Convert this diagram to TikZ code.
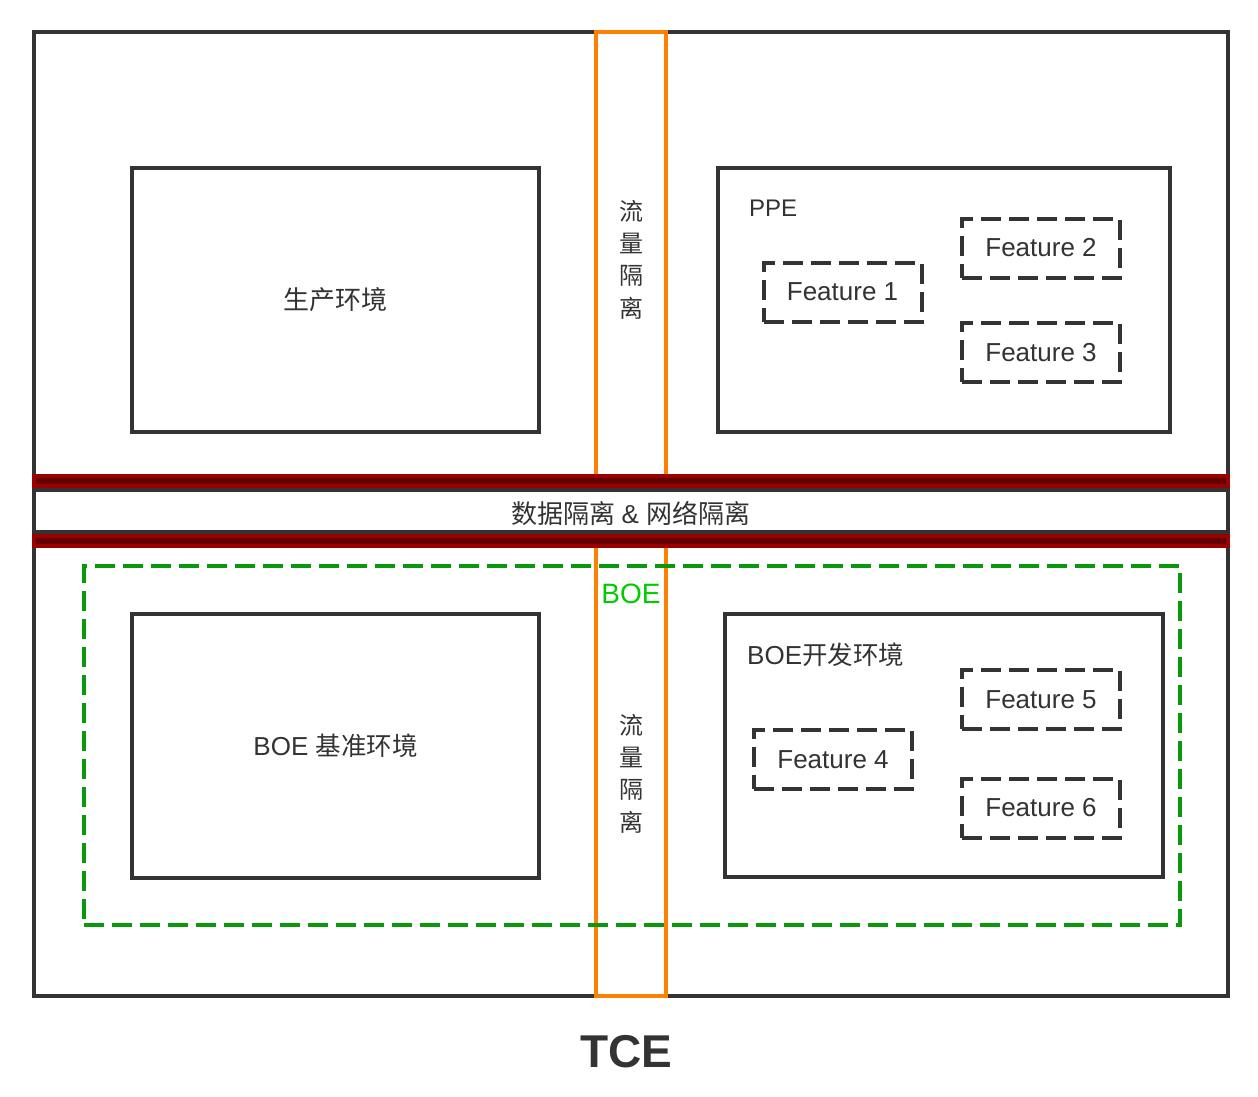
\documentclass[tikz,border=0pt]{standalone}
\usepackage{fontspec}
\setmainfont{Liberation Sans}
\newfontfamily\cjk{Noto Sans CJK SC}
\definecolor{dk}{HTML}{333333}
\definecolor{orng}{HTML}{FF8000}
\definecolor{grn}{HTML}{0A990A}
\definecolor{grntxt}{HTML}{00CC00}
\definecolor{redb}{HTML}{990000}
\definecolor{redf}{HTML}{660000}
\tikzset{
  bx/.style={draw=dk,line width=4pt,inner sep=0pt,fill=white},
  featbox/.style={draw=dk,line width=4pt,inner sep=0pt,dash pattern=on 20pt off 8pt,minimum width=158pt,minimum height=59pt,
     font=\fontsize{26}{30}\selectfont,text=dk},
  redbar/.style={draw=redb,fill=redf,line width=4pt,inner sep=0pt,minimum width=1194pt,minimum height=10pt},
  cn/.style={text=dk,font=\cjk\fontsize{26}{30}\selectfont,inner sep=0pt},
  vert/.style={text=dk,font=\cjk\fontsize{24}{32.3}\selectfont,align=center,inner sep=0pt},
}
\begin{document}
\begin{tikzpicture}[x=1pt,y=-1pt]
\useasboundingbox (0,0) rectangle (1258,1096);
% outer TCE box
\node[draw=dk,line width=4pt,inner sep=0pt,minimum width=1194pt,minimum height=964pt] (tce) at (631,514) {};
% orange traffic isolation strip
\node[draw=orng,line width=4pt,inner sep=0pt,minimum width=70pt,minimum height=964pt] (strip) at (631,514) {};
% green BOE dashed box
\node[draw=grn,line width=4pt,inner sep=0pt,dash pattern=on 20pt off 8pt,minimum width=1096pt,minimum height=359pt] (boe) at (632,745.5) {};
% isolation band
\node[redbar] (red1) at (631,481) {};
\node[redbar] (red2) at (631,541) {};
\node[draw=dk,fill=white,line width=4pt,inner sep=0pt,minimum width=1194pt,minimum height=42pt] (band) at (631,511) {};
\node[cn] (bandtxt) at (631,513) {数据隔离 \fontspec{Liberation Sans}\&\ {\cjk 网络隔离}};
% vertical labels
\node[vert] (v1) at (631,259.5) {流\\量\\隔\\离};
\node[vert] (v2) at (631,773.5) {流\\量\\隔\\离};
% BOE label
\node[text=grntxt,font=\fontsize{28}{30}\selectfont,inner sep=0pt] (boelbl) at (631,594) {BOE};
% top left
\node[bx,minimum width=407pt,minimum height=264pt] (prod) at (335.5,300) {};
\node[cn] at (prod.center) {生产环境};
% PPE
\node[bx,minimum width=452pt,minimum height=264pt] (ppe) at (944,300) {};
\node[text=dk,font=\fontsize{24}{28}\selectfont,inner sep=0pt,anchor=west] (ppelbl) at (749,208.5) {PPE};
\node[featbox] (f1) at (842.5,292) {Feature 1};
\node[featbox] (f2) at (1041,248) {Feature 2};
\node[featbox] (f3) at (1041,352.5) {Feature 3};
% bottom left
\node[bx,minimum width=407pt,minimum height=264pt] (base) at (335.5,746) {};
\node[text=dk,inner sep=0pt,font=\fontsize{26}{30}\selectfont] at (base.center) {BOE {\cjk\fontsize{25.5}{30}\selectfont 基准环境}};
% BOE dev
\node[bx,minimum width=438pt,minimum height=263pt] (dev) at (944,745.5) {};
\node[text=dk,font=\fontsize{26}{30}\selectfont,inner sep=0pt,anchor=west] (devlbl) at (747,655) {BOE{\cjk\fontsize{25.5}{30}\selectfont 开发环境}};
\node[featbox] (f4) at (833,759.5) {Feature 4};
\node[featbox] (f5) at (1041,699.5) {Feature 5};
\node[featbox] (f6) at (1041,808) {Feature 6};
% title
\node[text=dk,font=\bfseries\fontsize{46}{50}\selectfont,inner sep=0pt] (title) at (626,1052) {TCE};
\end{tikzpicture}
\end{document}
